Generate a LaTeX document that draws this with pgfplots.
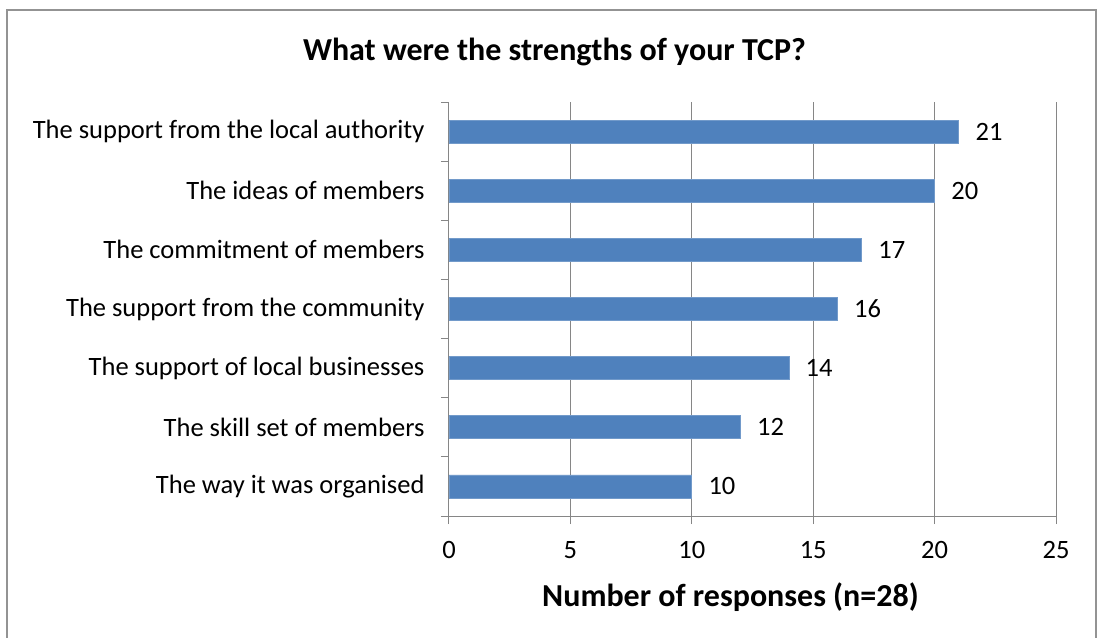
\documentclass[border=0pt]{standalone}
\usepackage{pgfplots}
\pgfplotsset{compat=1.18}
\usepackage{fontspec}
\setmainfont{Carlito}
\definecolor{barblue}{HTML}{4F81BD}
\definecolor{gridgray}{HTML}{868686}
\begin{document}
\begin{tikzpicture}[x=1pt,y=1pt]
\useasboundingbox (-449,-121) rectangle (653,516);
\draw[line width=2pt,color=gray!85] (-442,-130) -- (-442,506) -- (647,506) -- (647,-130);
\node[font=\fontsize{32}{37}\selectfont\bfseries] at (105.5,464) {What were the strengths of your TCP?};
\begin{axis}[
  scale only axis, width=607pt, height=414pt,
  xmin=0, xmax=25, ymin=-0.5, ymax=6.5,
  xtick={0,5,...,25},
  ytick={-0.5,0.5,...,6.5},
  yticklabels={},
  extra y ticks={0,1,2,3,4,5,6},
  extra y tick labels={The way it was organised,The skill set of members,The support of local businesses,The support from the community,The commitment of members,The ideas of members,The support from the local authority},
  extra y tick style={major tick length=0pt, yticklabel style={xshift=-21pt}},
  axis line style={gridgray, line width=1pt},
  axis x line*=bottom,
  axis y line*=left,
  xmajorgrids, major grid style={gridgray, line width=1pt},
  tick style={gridgray, line width=1pt},
  major tick length=8pt,
  tick align=outside,
  ticklabel style={font=\fontsize{26.5}{30}\selectfont, text=black},
  /pgf/number format/assume math mode=true,
  xticklabel style={yshift=-14pt},
  xlabel={Number of responses (n=28)},
  xlabel style={font=\fontsize{32}{37}\selectfont\bfseries, yshift=-17pt, xshift=-22pt},
  xbar, bar width=23pt,
  nodes near coords,
  nodes near coords style={font=\fontsize{26.5}{30}\selectfont, text=black, xshift=13pt},
  clip=false,
]
\addplot[fill=barblue, draw=barblue!80!white, line width=0.8pt] coordinates {
(10,0) (12,1) (14,2) (16,3) (17,4) (20,5) (21,6)};
\end{axis}
\end{tikzpicture}
\end{document}
